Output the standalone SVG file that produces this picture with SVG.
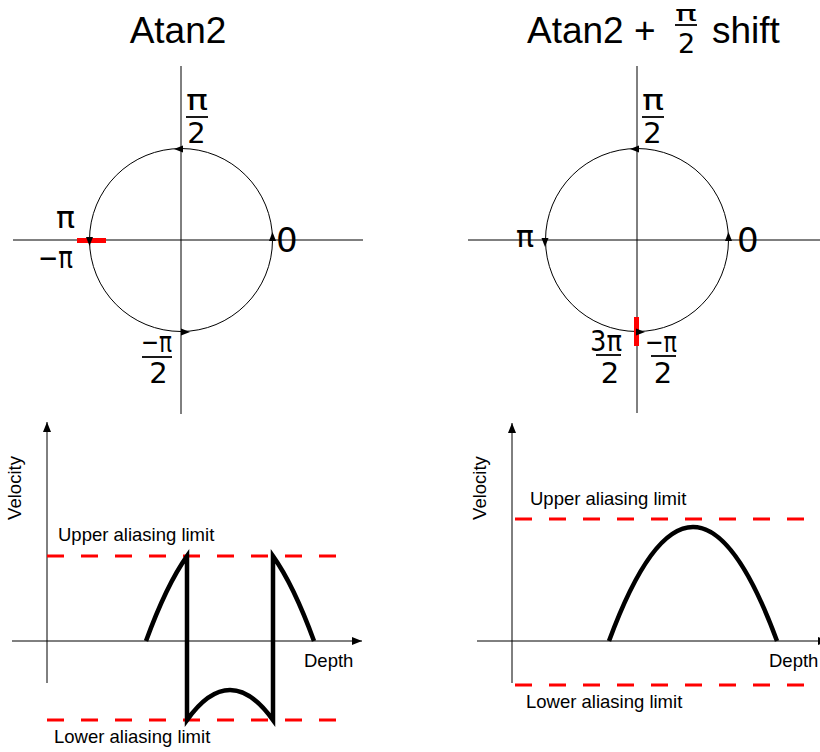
<svg xmlns="http://www.w3.org/2000/svg" width="820" height="752" viewBox="0 0 820 752">
<defs>
<style>
.title{font-family:"Liberation Sans",Arial,sans-serif;font-size:37px;fill:#000}
.math{font-family:"DejaVu Sans",sans-serif;fill:#000}
.lbl{font-family:"Liberation Sans",Arial,sans-serif;font-size:18.5px;fill:#000}
.ax{stroke:#000;stroke-width:1;fill:none}
.circ{stroke:#000;stroke-width:1;fill:none}
.frac{stroke:#000;stroke-width:1.8}
.lim{stroke:#ff0000;stroke-width:3;stroke-dasharray:17 17;fill:none}
.curve{stroke:#000;stroke-width:4.5;fill:none;stroke-linejoin:miter;stroke-miterlimit:10}
.head{fill:#000}
</style>
<marker id="arr" viewBox="0 0 10 8" refX="10" refY="4" markerWidth="10" markerHeight="8" markerUnits="userSpaceOnUse" orient="auto">
<path d="M0,0 L10,4 L0,8 z" fill="#000"/>
</marker>
</defs>
<rect width="820" height="752" fill="#fff"/>

<g id="title-left">
<text class="title" x="178" y="43" text-anchor="middle">Atan2</text>
</g>
<g id="title-right">
<text class="title" x="527" y="43">Atan2 +</text>
<text class="math" x="675" y="21" font-size="22" textLength="22" lengthAdjust="spacingAndGlyphs">π</text>
<line class="frac" x1="675" y1="25" x2="697" y2="25"/>
<text class="math" x="686.5" y="53" font-size="27" text-anchor="middle">2</text>
<text class="title" x="712" y="43">shift</text>
</g>

<g id="circle-left">
<line class="ax" x1="13" y1="240" x2="363" y2="240"/>
<line class="ax" x1="181" y1="66" x2="181" y2="414"/>
<circle class="circ" cx="181" cy="240" r="91.5"/>
<rect x="77" y="238" width="29" height="5" fill="#ff0000"/>
<path class="head" d="M174,149 L183,145.5 L183,152.5 z"/>
<path class="head" d="M272.5,232 L269,241 L276,241 z"/>
<path class="head" d="M89.5,246 L86,237 L93,237 z"/>
<path class="head" d="M190,332 L181,328.5 L181,335.5 z"/>
<text class="math" x="186" y="110" font-size="29" textLength="22" lengthAdjust="spacingAndGlyphs">π</text>
<line class="frac" x1="186" y1="117" x2="208" y2="117"/>
<text class="math" x="196.5" y="143" font-size="29" text-anchor="middle">2</text>
<text class="math" x="276" y="252" font-size="34">0</text>
<text class="math" x="56" y="228" font-size="30" textLength="19" lengthAdjust="spacingAndGlyphs">π</text>
<text class="math" x="38" y="268" font-size="30" textLength="35" lengthAdjust="spacingAndGlyphs">−π</text>
<text class="math" x="141" y="352" font-size="29" textLength="31" lengthAdjust="spacingAndGlyphs">−π</text>
<line class="frac" x1="142" y1="357" x2="172" y2="357"/>
<text class="math" x="158.5" y="383" font-size="29" text-anchor="middle">2</text>
</g>

<g id="circle-right">
<line class="ax" x1="468" y1="240" x2="820" y2="240"/>
<line class="ax" x1="637" y1="66" x2="637" y2="413"/>
<circle class="circ" cx="637" cy="240" r="91.5"/>
<rect x="634" y="317" width="5" height="29" fill="#ff0000"/>
<path class="head" d="M630,149 L639,145.5 L639,152.5 z"/>
<path class="head" d="M728.5,232 L725,241 L732,241 z"/>
<path class="head" d="M545,247 L541.5,238 L548.5,238 z"/>
<path class="head" d="M645,332 L636,328.5 L636,335.5 z"/>
<text class="math" x="642" y="110" font-size="29" textLength="22" lengthAdjust="spacingAndGlyphs">π</text>
<line class="frac" x1="642" y1="117" x2="664" y2="117"/>
<text class="math" x="652.5" y="143" font-size="29" text-anchor="middle">2</text>
<text class="math" x="737" y="252" font-size="34">0</text>
<text class="math" x="516" y="247" font-size="30" textLength="18" lengthAdjust="spacingAndGlyphs">π</text>
<text class="math" x="590" y="351" font-size="29" textLength="32" lengthAdjust="spacingAndGlyphs">3π</text>
<line class="frac" x1="596" y1="355" x2="621" y2="355"/>
<text class="math" x="610" y="383" font-size="29" text-anchor="middle">2</text>
<text class="math" x="645" y="352" font-size="29" textLength="32" lengthAdjust="spacingAndGlyphs">−π</text>
<line class="frac" x1="651" y1="356" x2="676" y2="356"/>
<text class="math" x="663" y="383" font-size="29" text-anchor="middle">2</text>
</g>

<g id="graph-left">
<line class="ax" x1="47" y1="683" x2="47" y2="422" marker-end="url(#arr)"/>
<line class="ax" x1="12" y1="641" x2="362" y2="641" marker-end="url(#arr)"/>
<line class="lim" x1="47" y1="556" x2="337" y2="556"/>
<line class="lim" x1="47" y1="720" x2="337" y2="720"/>
<path class="curve" d="M146,641 Q166.5,584.9 187,556.1 L187,720.1 Q230,659.9 273,720.1 L273,556.1 Q293.5,584.9 314,641"/>
<text class="lbl" x="58" y="541">Upper aliasing limit</text>
<text class="lbl" x="54" y="743">Lower aliasing limit</text>
<text class="lbl" x="304" y="667">Depth</text>
<text class="lbl" x="21" y="488" text-anchor="middle" transform="rotate(-90 21 488)">Velocity</text>
</g>

<g id="graph-right">
<line class="ax" x1="512" y1="683" x2="512" y2="423" marker-end="url(#arr)"/>
<line class="ax" x1="477" y1="641" x2="828" y2="641" marker-end="url(#arr)"/>
<line class="lim" x1="515" y1="519" x2="805" y2="519"/>
<line class="lim" x1="515" y1="685" x2="805" y2="685"/>
<path class="curve" d="M609,641 Q693,413 777,641"/>
<text class="lbl" x="530" y="505">Upper aliasing limit</text>
<text class="lbl" x="526" y="708">Lower aliasing limit</text>
<text class="lbl" x="769" y="667">Depth</text>
<text class="lbl" x="486" y="488" text-anchor="middle" transform="rotate(-90 486 488)">Velocity</text>
</g>
</svg>
